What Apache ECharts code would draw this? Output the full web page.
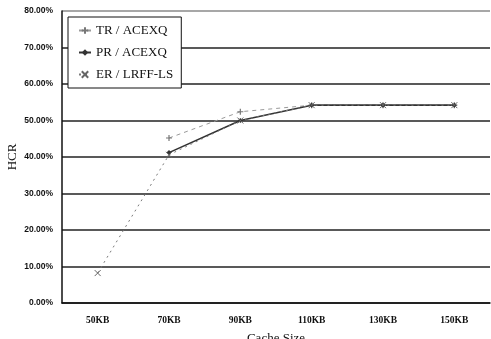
<!DOCTYPE html>
<html>
<head>
<meta charset="utf-8">
<script src="https://cdn.jsdelivr.net/npm/echarts@6/dist/echarts.min.js"></script>
<style>
  html, body { margin: 0; padding: 0; background: #fff; }
  #chart { width: 491px; height: 339px; }
</style>
</head>
<body>
<div id="chart"></div>
<script>
// Cache sizes on the x axis
const cacheSizes = ['50KB', '70KB', '90KB', '110KB', '130KB', '150KB'];

// Hit-count ratio (%) per strategy
const trAcexq = [null, 45.2, 52.4, 54.2, 54.2, 54.2];
const prAcexq = [null, 41.2, 50.0, 54.2, 54.2, 54.2];
const erLrffLs = [8.2, 40.6, 50.0, 54.2, 54.2, 54.2];

const seriesNames = ['TR / ACEXQ', 'PR / ACEXQ', 'ER / LRFF-LS'];

const crossMark = 'path://M0,0L10,10M10,0L0,10';
const plusMark = 'path://M5,0L5,10M0,5L10,5';

const chart = echarts.init(document.getElementById('chart'), null, { renderer: 'canvas' });

chart.setOption({
  animation: false,
  backgroundColor: '#fff',
  grid: { left: 62, right: 1, top: 11, bottom: 36, containLabel: false, outerBoundsMode: 'none' },
  legend: {
    orient: 'vertical',
    left: 68,
    top: 17,
    padding: [7, 8, 7, 10],
    itemGap: 9,
    itemWidth: 12,
    itemHeight: 8,
    backgroundColor: '#fff',
    borderColor: '#111',
    borderWidth: 1,
    data: seriesNames,
    textStyle: { fontFamily: 'Liberation Serif', fontSize: 13, color: '#111' }
  },
  xAxis: {
    type: 'category',
    data: cacheSizes,
    boundaryGap: true,
    name: 'Cache Size',
    nameLocation: 'middle',
    nameGap: 29,
    nameMoveOverlap: false,
    nameTextStyle: { fontFamily: 'Liberation Serif', fontSize: 13, color: '#111' },
    axisLine: { lineStyle: { color: '#111', width: 1.5 } },
    axisTick: { inside: true, length: 3, lineStyle: { color: '#555' } },
    axisLabel: {
      margin: 13,
      fontFamily: 'Liberation Serif',
      fontWeight: 'bold',
      fontSize: 9.5,
      color: '#111'
    }
  },
  yAxis: {
    type: 'value',
    min: 0,
    max: 80,
    interval: 10,
    name: 'HCR',
    nameLocation: 'middle',
    nameGap: 43,
    nameMoveOverlap: false,
    nameTextStyle: { fontFamily: 'Liberation Serif', fontSize: 13, color: '#111' },
    axisLine: { show: true, lineStyle: { color: '#111', width: 1.5 } },
    axisTick: { show: false },
    axisLabel: {
      margin: 9,
      fontFamily: 'Liberation Sans',
      fontWeight: 'bold',
      fontSize: 8.5,
      color: '#111',
      formatter: v => v.toFixed(2) + '%'
    },
    splitLine: {
      lineStyle: {
        color: ['#222', '#222', '#222', '#222', '#222', '#222', '#222', '#222', '#8a8a8a'],
        width: 1.7
      }
    }
  },
  series: [
    {
      name: seriesNames[0],
      type: 'line',
      data: trAcexq,
      symbol: plusMark,
      symbolSize: 6,
      lineStyle: { color: '#9a9a9a', width: 1, type: [4, 4] },
      itemStyle: { color: '#777', borderColor: '#777', borderWidth: 1.2 }
    },
    {
      name: seriesNames[1],
      type: 'line',
      data: prAcexq,
      symbol: 'diamond',
      symbolSize: 5,
      lineStyle: { color: '#333', width: 1.6 },
      itemStyle: { color: '#333', borderColor: '#333', borderWidth: 0 }
    },
    {
      name: seriesNames[2],
      type: 'line',
      data: erLrffLs,
      symbol: crossMark,
      symbolSize: 6,
      lineStyle: { color: '#7a7a7a', width: 1, type: [2, 4] },
      itemStyle: { color: '#666', borderColor: '#666', borderWidth: 1 }
    }
  ]
});
</script>
</body>
</html>
